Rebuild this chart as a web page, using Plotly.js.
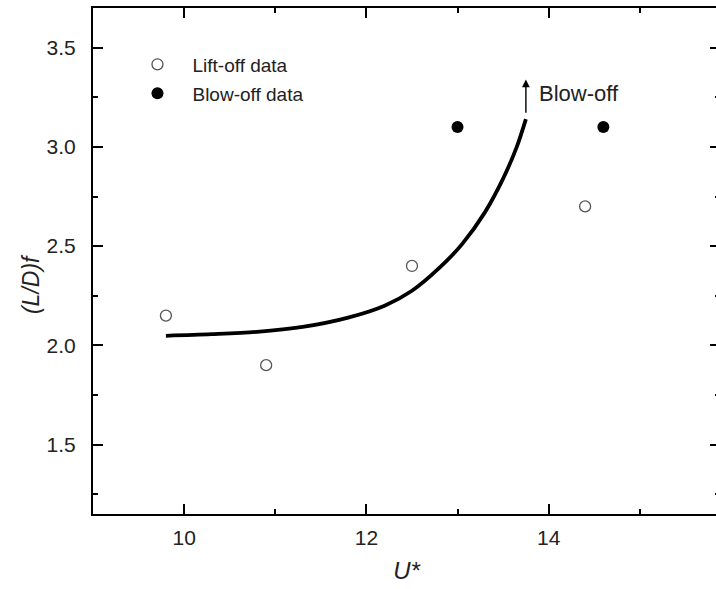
<!DOCTYPE html>
<html>
<head>
<meta charset="utf-8">
<script src="https://cdn.plot.ly/plotly-3.0.1.min.js"></script>
<style>
html,body{margin:0;padding:0;overflow:hidden;background:#fff;width:716px;height:589px;}
#chart{width:724px;height:589px;}
</style>
</head>
<body>
<div id="chart"></div>
<script>
// Lift-off data (open circles)
var liftX = [9.8, 10.9, 12.5, 14.4];
var liftY = [2.15, 1.90, 2.40, 2.70];
// Blow-off data (filled circles)
var blowX = [13.0, 14.6];
var blowY = [3.10, 3.10];
// Fitted curve
var curveX = [9.8, 10.3, 10.8, 11.3, 11.8, 12.2, 12.5, 12.8, 13.05, 13.3, 13.5, 13.65, 13.75];
var curveY = [2.048, 2.056, 2.068, 2.093, 2.14, 2.20, 2.275, 2.39, 2.51, 2.67, 2.84, 3.00, 3.14];
var xTicks = [10, 12, 14];
var yTicks = [1.5, 2.0, 2.5, 3.0, 3.5];

var font = 'Liberation Sans, Arial, sans-serif';

var traces = [
  {x: curveX, y: curveY, mode: 'lines', line: {color: '#000', width: 3.8, shape: 'spline', smoothing: 0.9}, showlegend: false, hoverinfo: 'skip'},
  {x: liftX, y: liftY, mode: 'markers', name: 'Lift-off data', legend: 'legend',
   marker: {symbol: 'circle-open', size: 11, color: '#555', line: {width: 1.3, color: '#555'}}},
  {x: blowX, y: blowY, mode: 'markers', name: 'Blow-off data', legend: 'legend2',
   marker: {symbol: 'circle', size: 12, color: '#000'}}
];

var axisCommon = {
  showline: true, linecolor: '#000', linewidth: 2, mirror: 'ticks',
  ticks: 'inside', ticklen: 10, tickwidth: 2, tickcolor: '#000',
  showgrid: false, zeroline: false,
  tickfont: {family: font, size: 21, color: '#222'}
};

var layout = {
  width: 724, height: 589,
  margin: {l: 93, r: 4, t: 8, b: 75},
  paper_bgcolor: '#fff', plot_bgcolor: '#fff',
  xaxis: Object.assign({}, axisCommon, {
    range: [9.0, 15.88], tickmode: 'array', tickvals: xTicks, ticktext: xTicks.map(String),
    minor: {dtick: 1, ticks: 'inside', ticklen: 5, tickwidth: 2, tickcolor: '#000'},
    ticklabelstandoff: 4,
    title: {text: '<i>U*</i>', font: {family: font, size: 24, color: '#222'}, standoff: 14}
  }),
  yaxis: Object.assign({}, axisCommon, {
    range: [1.15, 3.7], tickmode: 'array', tickvals: yTicks, ticktext: yTicks.map(function(v){return v.toFixed(1);}),
    minor: {dtick: 0.25, ticks: 'inside', ticklen: 5, tickwidth: 2, tickcolor: '#000'},
    ticklabelstandoff: 11
  }),
  legend: {x: 0.047, y: 0.926, xanchor: 'left', yanchor: 'top', bgcolor: 'rgba(0,0,0,0)',
           font: {family: font, size: 19, color: '#222'}, itemwidth: 60},
  legend2: {x: 0.047, y: 0.869, xanchor: 'left', yanchor: 'top', bgcolor: 'rgba(0,0,0,0)',
           font: {family: font, size: 19, color: '#222'}, itemwidth: 60},
  annotations: [
    {x: 13.75, y: 3.34, ax: 13.75, ay: 3.165, xref: 'x', yref: 'y', axref: 'x', ayref: 'y',
     showarrow: true, arrowhead: 2, arrowsize: 1.1, arrowwidth: 1.4, arrowcolor: '#000', text: ''},
    {x: 13.87, y: 3.27, xref: 'x', yref: 'y', xanchor: 'left', yanchor: 'middle', showarrow: false,
     text: 'Blow-off', font: {family: font, size: 22, color: '#222'}},
    {x: -0.1, y: 0.455, xref: 'paper', yref: 'paper', xanchor: 'center', yanchor: 'middle', showarrow: false,
     textangle: -90, text: '<i>(L/D)f</i>', font: {family: font, size: 23, color: '#222'}}
  ]
};

Plotly.newPlot('chart', traces, layout, {displayModeBar: false, staticPlot: true});
</script>
</body>
</html>
